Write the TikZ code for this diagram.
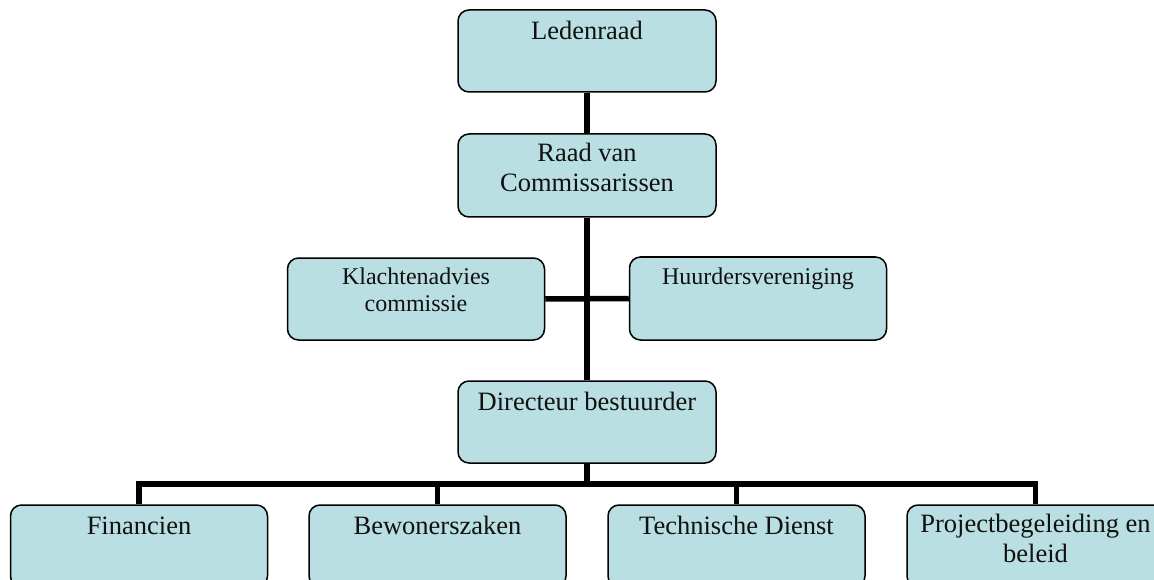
\documentclass[tikz,border=0pt]{standalone}
\usepackage{fontspec}
\setmainfont{Liberation Serif}
\usetikzlibrary{backgrounds}
\definecolor{boxfill}{RGB}{185,223,226}
\definecolor{inktext}{RGB}{17,17,17}
\begin{document}
\begin{tikzpicture}[x=1pt,y=-1pt,
  orgbox/.style={draw=black, line width=1.5pt, fill=boxfill,
    rounded corners=11pt, inner sep=0pt, minimum width=257pt, minimum height=82pt},
  bigtext/.style={inner sep=0pt, align=center, anchor=north, text=inktext,
    font=\fontsize{26.5}{30}\selectfont,
    execute at begin node={\rule{0pt}{20pt}}},
  midtext/.style={inner sep=0pt, align=center, anchor=north, text=inktext,
    font=\fontsize{24}{27}\selectfont,
    execute at begin node={\rule{0pt}{18pt}}},
  conn/.style={draw=black, line width=5.5pt, line join=miter}]

\useasboundingbox (0,0) rectangle (1154,580);
\clip (0,0) rectangle (1154,580);

% boxes of the organisation chart
\node[orgbox, minimum width=258pt] (led)  at (587,51)    {};
\node[orgbox, minimum width=258pt, minimum height=83pt] (rvc) at (587,175.5) {};
\node[orgbox] (kac)  at (416,299)   {};
\node[orgbox, minimum height=83pt] (hv) at (758,298.5) {};
\node[orgbox, minimum width=258pt] (dir)  at (587,422)   {};
\node[orgbox] (fin)  at (139,546)   {};
\node[orgbox] (bew)  at (437.5,546) {};
\node[orgbox] (tech) at (736.5,546) {};
\node[orgbox] (proj) at (1035.5,546) {};

% junction on the trunk and the bus above the departments
\coordinate (mid) at (587,299);
\coordinate (bus) at (587,484);

% connectors, drawn under the boxes
\begin{scope}[on background layer]
  \draw[conn] (led.south) -- (rvc.north);
  \draw[conn] (rvc.south) -- (dir.north);
  \draw[conn] (kac.east) -- (hv.west);
  \draw[conn] (dir.south) -- (bus);
  \draw[conn] (fin.north) -- (fin.north |- bus) -- (proj.north |- bus) -- (proj.north);
  \draw[conn] (bew.north |- bus) -- (bew.north);
  \draw[conn] (tech.north |- bus) -- (tech.north);
\end{scope}

% labels
\node[bigtext] (led-t)  at ([yshift=-10pt]led.north)  {Ledenraad};
\node[bigtext] (rvc-t)  at ([yshift=-10pt]rvc.north)  {Raad van\\Commissarissen};
\node[midtext] (kac-t)  at ([yshift=-10pt]kac.north)  {Klachtenadvies\\commissie};
\node[midtext] (hv-t)   at ([yshift=-10pt]hv.north)   {Huurdersvereniging};
\node[bigtext] (dir-t)  at ([yshift=-10pt]dir.north)  {Directeur bestuurder};
\node[bigtext] (fin-t)  at ([yshift=-10pt]fin.north)  {Financien};
\node[bigtext] (bew-t)  at ([yshift=-10pt]bew.north)  {Bewonerszaken};
\node[bigtext] (tech-t) at ([yshift=-10pt]tech.north) {Technische Dienst};
\node[bigtext] (proj-t) at ([yshift=-10pt]proj.north) {Projectbegeleiding en\\beleid};
\end{tikzpicture}
\end{document}
